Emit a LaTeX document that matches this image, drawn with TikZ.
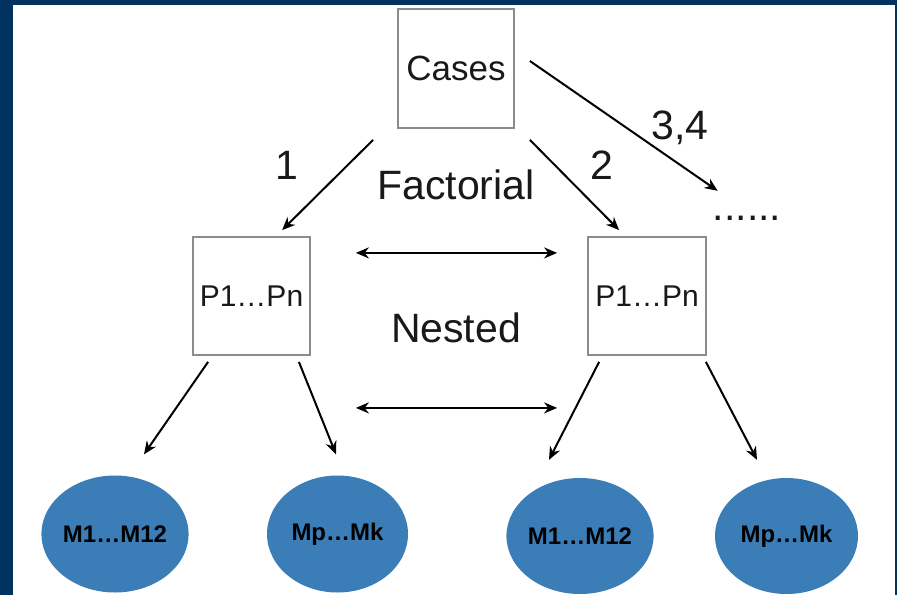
\documentclass[tikz,border=0pt]{standalone}
\usepackage{fontspec}
\setmainfont{Liberation Sans}
\usetikzlibrary{shapes.geometric,arrows.meta}
\definecolor{navy}{RGB}{0,51,96}
\definecolor{ballblue}{RGB}{59,125,182}
\definecolor{boxgray}{RGB}{140,140,140}
\definecolor{ink}{RGB}{25,25,25}
\begin{document}
\begin{tikzpicture}[x=1pt,y=-1pt,
  sq/.style={draw=boxgray,line width=1.8pt,fill=white,inner sep=0pt,text=ink},
  ball/.style={ellipse,fill=ballblue,inner sep=0pt,font=\fontsize{24}{24}\selectfont\bfseries,text=black},
  arr/.style={-{Stealth[length=13pt,width=11pt]},line width=2pt,black},
  darr/.style={{Stealth[length=13pt,width=11pt]}-{Stealth[length=13pt,width=11pt]},line width=2pt,black},
  lbl/.style={font=\fontsize{41}{41}\selectfont,text=ink,inner sep=0pt}]
\useasboundingbox (0,0) rectangle (897,595);
\fill[navy] (0,0) rectangle (897,595);
\fill[white] (13,5) rectangle (895,595);
% nodes
\node[sq,minimum width=116pt,minimum height=119pt,font=\fontsize{35}{35}\selectfont] (cases) at (456,68.5) {Cases};
\node[sq,minimum width=117pt,minimum height=118pt,font=\fontsize{30}{30}\selectfont] (p1) at (251.5,296) {P1…Pn};
\node[sq,minimum width=118pt,minimum height=118pt,font=\fontsize{30}{30}\selectfont] (p2) at (647,296) {P1…Pn};
\node[ball,minimum width=144pt,minimum height=117pt] (m1) at (115,534) {M1…M12};
\node[ball,minimum width=141pt,minimum height=117pt] (m2) at (337.5,534) {Mp…Mk};
\node[ball,minimum width=134pt,minimum height=116pt] (m3) at (580,536) {M1…M12};
\node[ball,minimum width=143pt,minimum height=116pt] (m4) at (786.5,536) {Mp…Mk};
% labels
\node[lbl] (l1) at (287,165) {1};
\node[lbl] (l2) at (602,165) {2};
\node[lbl] (l34) at (680,128) {3,4};
\node[lbl] (fact) at (456,185) {Factorial};
\node[lbl] (nest) at (456,328) {Nested};
\node[lbl,anchor=base] (dots) at (747,220) {......};
% connectors
\draw[arr] ([shift={(-24,11)}]cases.south west) -- ([shift={(90,-6)}]p1.north west);
\draw[arr] ([shift={(15,11)}]cases.south east) -- ([shift={(32,-6)}]p2.north west);
\draw[arr] ([shift={(15,-7.5)}]cases.east) -- ([shift={(5,-27)}]dots.west);
\draw[darr] ([shift={(45,-103)}]p1.south east) -- ([shift={(-30,-103)}]p2.south west);
\draw[darr] ([shift={(45,52)}]p1.south east) -- ([shift={(-30,52)}]p2.south west);
\draw[arr] ([shift={(16,6)}]p1.south west) -- ([shift={(29,-21)}]m1.north);
\draw[arr] ([shift={(-12,6)}]p1.south east) -- ([shift={(-1.5,-21)}]m2.north);
\draw[arr] ([shift={(12,6)}]p2.south west) -- ([shift={(-31,-18)}]m3.north);
\draw[arr] ([shift={(-1,6)}]p2.south east) -- ([shift={(-29.5,-18)}]m4.north);
\end{tikzpicture}
\end{document}
